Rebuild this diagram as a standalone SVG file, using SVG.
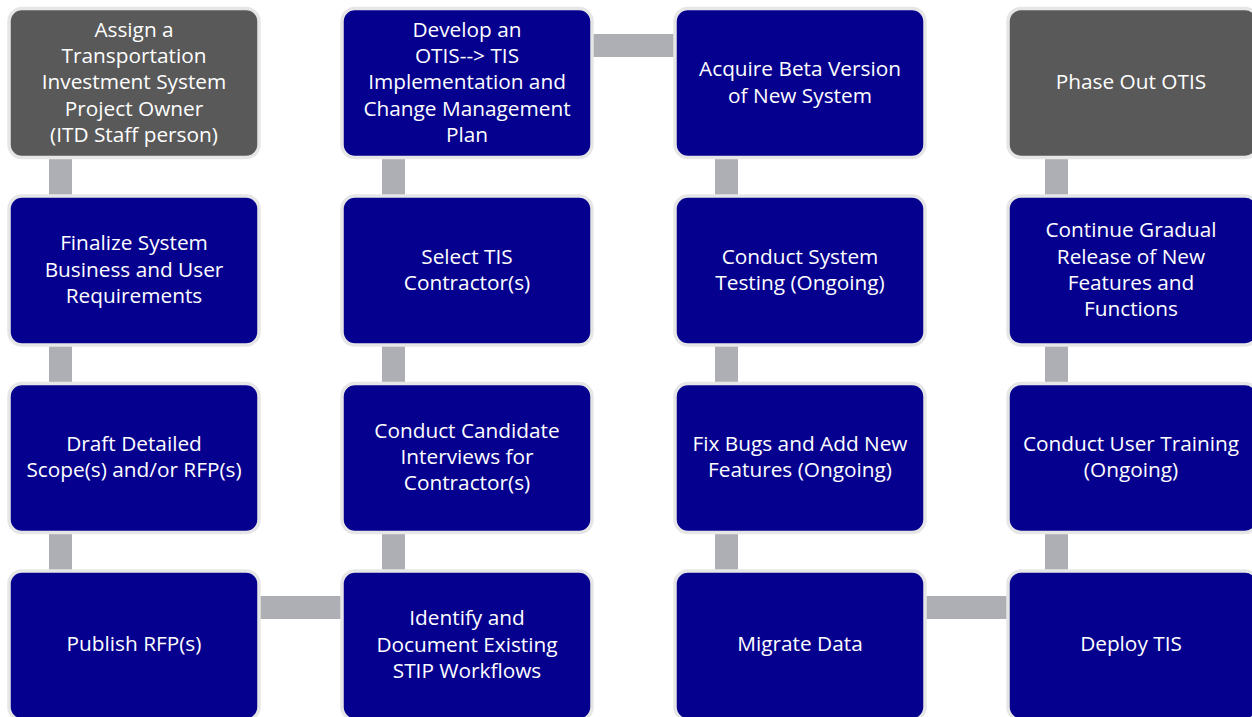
<svg xmlns="http://www.w3.org/2000/svg" width="1252" height="717" viewBox="0 0 1252 717">
<style>
.box{stroke:#e6e6e6;stroke-width:3.5}
.blue{fill:#06008f}
.gray{fill:#595959}
.bar{fill:#adafb5}
text{font-family:"Open Sans","Liberation Sans",sans-serif;font-size:20.8px;fill:#ffffff;text-anchor:middle}
</style>
<rect width="1252" height="717" fill="#ffffff"/>
<g id="connectors">
<rect class="bar" x="49" y="156" width="23" height="42"/>
<rect class="bar" x="49" y="343" width="23" height="42"/>
<rect class="bar" x="49" y="530" width="23" height="42"/>
<rect class="bar" x="382" y="156" width="23" height="42"/>
<rect class="bar" x="382" y="343" width="23" height="42"/>
<rect class="bar" x="382" y="530" width="23" height="42"/>
<rect class="bar" x="715" y="156" width="23" height="42"/>
<rect class="bar" x="715" y="343" width="23" height="42"/>
<rect class="bar" x="715" y="530" width="23" height="42"/>
<rect class="bar" x="1045" y="156" width="23" height="42"/>
<rect class="bar" x="1045" y="343" width="23" height="42"/>
<rect class="bar" x="1045" y="530" width="23" height="42"/>
<rect class="bar" x="258" y="596" width="86" height="23"/>
<rect class="bar" x="924" y="596" width="86" height="23"/>
<rect class="bar" x="591" y="34" width="86" height="23"/>
</g>
<g id="n1"><rect class="box gray" x="9" y="8.5" width="250" height="149" rx="13"/>
<text x="134" y="37">Assign a</text><text x="134" y="63">Transportation</text><text x="134" y="89">Investment System</text><text x="134" y="116">Project Owner</text><text x="134" y="142">(ITD Staff person)</text></g>
<g id="n2"><rect class="box blue" x="9" y="196" width="250" height="149" rx="13"/>
<text x="134" y="250">Finalize System</text><text x="134" y="277">Business and User</text><text x="134" y="303">Requirements</text></g>
<g id="n3"><rect class="box blue" x="9" y="383.5" width="250" height="149" rx="13"/>
<text x="134" y="451">Draft Detailed</text><text x="134" y="477">Scope(s) and/or RFP(s)</text></g>
<g id="n4"><rect class="box blue" x="9" y="571" width="250" height="149" rx="13"/>
<text x="134" y="651">Publish RFP(s)</text></g>
<g id="n5"><rect class="box blue" x="342" y="571" width="250" height="149" rx="13"/>
<text x="467" y="625">Identify and</text><text x="467" y="652">Document Existing</text><text x="467" y="678">STIP Workflows</text></g>
<g id="n6"><rect class="box blue" x="342" y="383.5" width="250" height="149" rx="13"/>
<text x="467" y="438">Conduct Candidate</text><text x="467" y="464">Interviews for</text><text x="467" y="490">Contractor(s)</text></g>
<g id="n7"><rect class="box blue" x="342" y="196" width="250" height="149" rx="13"/>
<text x="467" y="264">Select TIS</text><text x="467" y="290">Contractor(s)</text></g>
<g id="n8"><rect class="box blue" x="342" y="8.5" width="250" height="149" rx="13"/>
<text x="467" y="37">Develop an</text><text x="467" y="63">OTIS--&gt; TIS</text><text x="467" y="89">Implementation and</text><text x="467" y="116">Change Management</text><text x="467" y="142">Plan</text></g>
<g id="n9"><rect class="box blue" x="675" y="8.5" width="250" height="149" rx="13"/>
<text x="800" y="76">Acquire Beta Version</text><text x="800" y="103">of New System</text></g>
<g id="n10"><rect class="box blue" x="675" y="196" width="250" height="149" rx="13"/>
<text x="800" y="264">Conduct System</text><text x="800" y="290">Testing (Ongoing)</text></g>
<g id="n11"><rect class="box blue" x="675" y="383.5" width="250" height="149" rx="13"/>
<text x="800" y="451">Fix Bugs and Add New</text><text x="800" y="477">Features (Ongoing)</text></g>
<g id="n12"><rect class="box blue" x="675" y="571" width="250" height="149" rx="13"/>
<text x="800" y="651">Migrate Data</text></g>
<g id="n13"><rect class="box blue" x="1008" y="571" width="250" height="149" rx="13"/>
<text x="1131" y="651">Deploy TIS</text></g>
<g id="n14"><rect class="box blue" x="1008" y="383.5" width="250" height="149" rx="13"/>
<text x="1131" y="451">Conduct User Training</text><text x="1131" y="477">(Ongoing)</text></g>
<g id="n15"><rect class="box blue" x="1008" y="196" width="250" height="149" rx="13"/>
<text x="1131" y="237">Continue Gradual</text><text x="1131" y="264">Release of New</text><text x="1131" y="290">Features and</text><text x="1131" y="316">Functions</text></g>
<g id="n16"><rect class="box gray" x="1008" y="8.5" width="250" height="149" rx="13"/>
<text x="1131" y="89">Phase Out OTIS</text></g>
</svg>
